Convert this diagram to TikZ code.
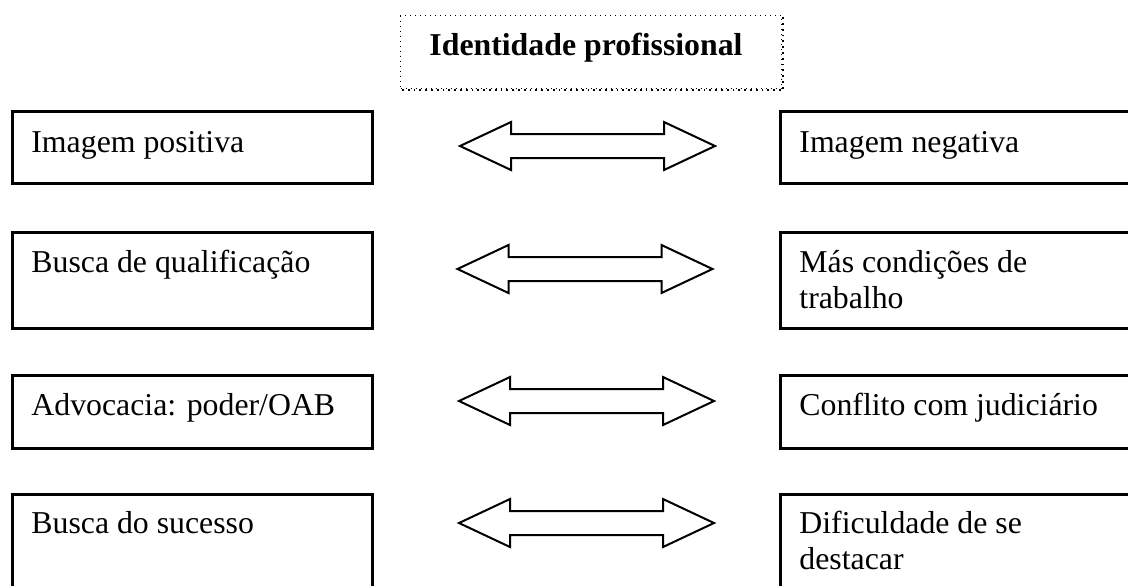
\documentclass[tikz,border=0pt]{standalone}
\usepackage{fontspec}
\setmainfont{Liberation Serif}
\begin{document}
\begin{tikzpicture}[x=0.5pt,y=-0.5pt,
  box/.style={draw, line width=1.3pt, inner sep=0pt, anchor=north west, minimum width=180pt},
  txt/.style={anchor=base west, inner sep=0pt, font=\fontsize{15.9}{18.3}\selectfont, align=left},
  blockarrow/.pic={\draw[line width=1pt, line join=miter]
     (-127.5,0) -- (-76.5,-24) -- (-76.5,-12) -- (76.5,-12) -- (76.5,-24) -- (127.5,0)
     -- (76.5,24) -- (76.5,12) -- (-76.5,12) -- (-76.5,24) -- cycle;}]
\useasboundingbox (0,0) rectangle (1128,585);
% title
\node[draw, dotted, line width=0.5pt, anchor=north west, minimum width=190.5pt, minimum height=36.5pt, inner sep=0pt] (title) at (400,15) {};
\draw[dotted, line width=0.9pt] ([xshift=1pt,yshift=-0.6pt]title.south west) -- ([xshift=0.6pt,yshift=-0.6pt]title.south east) -- ([xshift=0.6pt,yshift=-1pt]title.north east);
\node[anchor=base, inner sep=0pt, font=\fontsize{15.9}{18.3}\selectfont\bfseries] (titletext) at (586,55) {Identidade profissional};
% row 1
\node[box, minimum height=36pt] (l1) at (11,110) {};
\node[box, minimum height=36pt] (r1) at (779,110) {};
\node[txt] (l1t) at ([shift={(20,42)}]l1.north west) {Imagem positiva};
\node[txt] (r1t) at ([shift={(20,42)}]r1.north west) {Imagem negativa};
\coordinate (a1) at (587.5,146);
\pic at (a1) {blockarrow};
% row 2
\node[box, minimum height=48pt] (l2) at (11,231) {};
\node[box, minimum height=48pt] (r2) at (779,231) {};
\node[txt] (l2t) at ([shift={(20,41)}]l2.north west) {Busca de qualificação};
\node[txt] (r2t) at ([shift={(20,77.6)}]r2.north west) {Más condições de\\trabalho};
\coordinate (a2) at (585,269);
\pic at (a2) {blockarrow};
% row 3
\node[box, minimum height=36.5pt] (l3) at (11,374) {};
\node[box, minimum height=36.5pt] (r3) at (779,374) {};
\node[txt] (l3t) at ([shift={(20,41)}]l3.north west) {Advocacia: poder/OAB};
\node[txt] (r3t) at ([shift={(20,41)}]r3.north west) {Conflito com judiciário};
\coordinate (a3) at (586.5,401);
\pic at (a3) {blockarrow};
% row 4
\node[box, minimum height=50pt] (l4) at (11,493) {};
\node[box, minimum height=50pt] (r4) at (779,493) {};
\node[txt] (l4t) at ([shift={(20,40)}]l4.north west) {Busca do sucesso};
\node[txt] (r4t) at ([shift={(20,76.6)}]r4.north west) {Dificuldade de se\\destacar};
\coordinate (a4) at (586.5,523);
\pic at (a4) {blockarrow};
\end{tikzpicture}
\end{document}
